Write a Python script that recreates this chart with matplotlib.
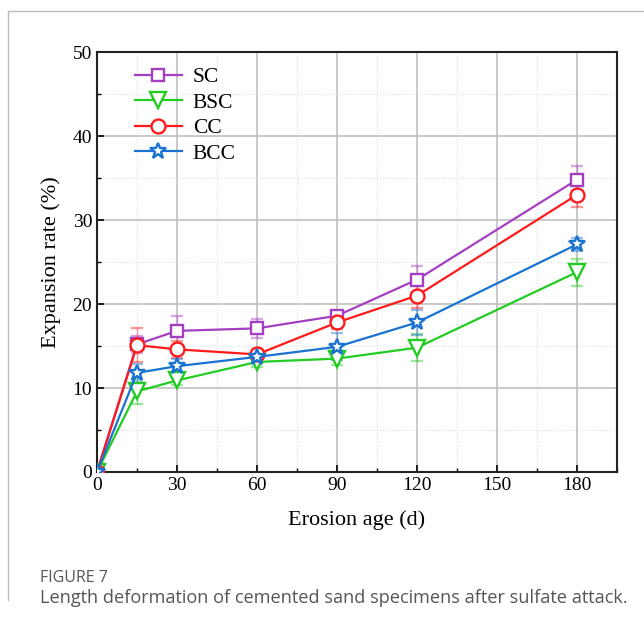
import numpy as np
import matplotlib.pyplot as plt
from matplotlib.ticker import MultipleLocator
from matplotlib.lines import Line2D

# ------------------------------------------------------------
# Data
# ------------------------------------------------------------
age = [0, 15, 30, 60, 90, 120, 180]

sc  = [0, 15.2, 16.8, 17.1, 18.6, 22.9, 34.8]
bsc = [0, 9.6, 10.9, 13.1, 13.5, 14.8, 23.8]
cc  = [0, 15.1, 14.6, 14.0, 17.8, 21.0, 33.0]
bcc = [0, 11.8, 12.6, 13.7, 14.9, 17.8, 27.1]

sc_err  = [0, 1.0, 1.8, 1.1, 0.6, 1.6, 1.6]
bsc_err = [0, 1.5, 0.6, 0.6, 0.8, 1.6, 1.6]
cc_err  = [0, 2.0, 1.0, 0.7, 0.8, 1.5, 1.4]
bcc_err = [0, 1.1, 0.8, 0.6, 1.6, 1.5, 0.8]

series = [
    ("SC",  sc,  sc_err,  "#a53fc2", "s", 9),
    ("BSC", bsc, bsc_err, "#22cc22", "v", 11),
    ("CC",  cc,  cc_err,  "#ff1a1a", "o", 10),
    ("BCC", bcc, bcc_err, "#1a73d1", "*", 12),
]

# ------------------------------------------------------------
# Figure
# ------------------------------------------------------------
fig = plt.figure(figsize=(6.44, 6.28), dpi=100)
ax = fig.add_axes([97 / 644, 1 - 472 / 628, 520 / 644, 420 / 628])

serif = ["Liberation Serif", "DejaVu Serif"]

for name, y, err, col, mk, ms in series:
    ax.errorbar(age, y, yerr=err, color=col, lw=1.6, marker=mk, ms=ms,
                mfc="white", mec=col, mew=1.7, ecolor=col, elinewidth=1.0,
                capsize=4, capthick=1.0, zorder=3)

# error bars are drawn lighter than the lines in the original
for c in ax.containers:
    for art in c.lines[1] + tuple(c.lines[2]):
        art.set_alpha(0.45)

ax.set_xlim(0, 195)
ax.set_ylim(0, 50)
ax.xaxis.set_major_locator(MultipleLocator(30))
ax.xaxis.set_minor_locator(MultipleLocator(15))
ax.yaxis.set_major_locator(MultipleLocator(10))
ax.yaxis.set_minor_locator(MultipleLocator(5))
ax.set_xticks([0, 30, 60, 90, 120, 150, 180])

ax.grid(which="major", color="#c0c0c0", lw=1.2, ls="-")
ax.grid(which="minor", color="#dddddd", lw=0.8, ls=":")
ax.set_axisbelow(True)

ax.tick_params(which="both", direction="in", top=False, right=False,
               labelsize=14)
ax.tick_params(which="major", length=5, width=1.2)
ax.tick_params(which="minor", length=3, width=1.0)
for lab in ax.get_xticklabels() + ax.get_yticklabels():
    lab.set_family(serif)

for sp in ax.spines.values():
    sp.set_linewidth(1.5)
    sp.set_color("#222222")

ax.set_xlabel("Erosion age (d)", fontsize=16, family=serif, labelpad=12)
ax.set_ylabel("Expansion rate (%)", fontsize=16, family=serif, labelpad=8)

handles = [Line2D([0], [0], color=col, lw=1.6, marker=mk, ms=ms, mfc="white",
                  mec=col, mew=1.7) for _, _, _, col, mk, ms in series]
ax.legend(handles, [s[0] for s in series], loc="upper left",
          bbox_to_anchor=(0.035, 1.01), frameon=False, handlelength=2.2,
          labelspacing=0.25, prop={"family": serif, "size": 15.5},
          handletextpad=0.5)

# thin border frame around the figure panel
fig.add_artist(Line2D([8 / 644, 1.0], [1 - 11 / 628, 1 - 11 / 628],
                      color="#bbbbbb", lw=1.0))
fig.add_artist(Line2D([8 / 644, 8 / 644], [1 - 11 / 628, 1 - 600 / 628],
                      color="#bbbbbb", lw=1.0))

fig.text(40 / 644, 1 - 578 / 628, "FIGURE 7", fontsize=11.5,
         family="Open Sans", color="#555555", va="center")
fig.text(40 / 644, 1 - 598 / 628,
         "Length deformation of cemented sand specimens after sulfate attack.",
         fontsize=13.1, family="Open Sans", color="#555555", va="center")

plt.savefig("out.png", dpi=100)
